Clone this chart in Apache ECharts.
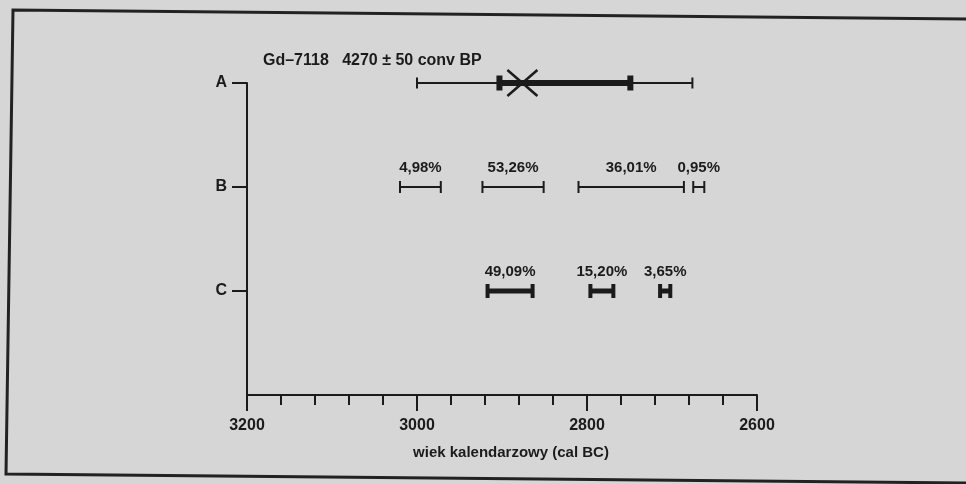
<!DOCTYPE html>
<html>
<head>
<meta charset="utf-8">
<title>Gd-7118</title>
<script src="https://cdn.jsdelivr.net/npm/echarts@6.0.0/dist/echarts.min.js"></script>
<style>
    html, body { margin: 0; padding: 0; background: #d6d6d6; }
    #chart { width: 966px; height: 484px; }
</style>
</head>
<body>
<div id="chart"></div>
<script>
// rows on the vertical axis, bottom slot left empty for the time axis
var rowNames = ['', 'C', 'B', 'A'];
var yearTicks = [2600, 2800, 3000, 3200];

// A: conventional date, 2 sigma (thin) and 1 sigma (thick) ranges, marker
var aRangeOuter = [3000, 2676];
var aRangeInner = [2903, 2749];
var aMarker = [2876];

// B: 95% ranges
var bFrom = [3020, 2923, 2810, 2675];
var bTo = [2972, 2851, 2686, 2662];
var bProb = ['4,98%', '53,26%', '36,01%', '0,95%'];

// C: 68% ranges
var cFrom = [2917, 2796, 2714];
var cTo = [2864, 2769, 2702];
var cProb = ['49,09%', '15,20%', '3,65%'];

var ink = '#1b1b1b';
var fontFamily = '"Liberation Sans", Arial, sans-serif';

var chart = echarts.init(document.getElementById('chart'));

function intervalRenderer(lineW, capW, capH, labels) {
    return function (params, api) {
        var p0 = api.coord([api.value(0), api.value(2)]);
        var p1 = api.coord([api.value(1), api.value(2)]);
        var y = p0[1];
        var children = [
            { type: 'line', shape: { x1: p0[0], y1: y, x2: p1[0], y2: y },
              style: { stroke: ink, lineWidth: lineW } },
            { type: 'rect', shape: { x: p0[0] - capW / 2, y: y - capH / 2, width: capW, height: capH },
              style: { fill: ink } },
            { type: 'rect', shape: { x: p1[0] - capW / 2, y: y - capH / 2, width: capW, height: capH },
              style: { fill: ink } }
        ];
        if (labels) {
            children.push({
                type: 'text', x: (p0[0] + p1[0]) / 2, y: y - 12,
                style: { text: labels[params.dataIndex], fill: ink, align: 'center', verticalAlign: 'bottom',
                         font: 'bold 15px ' + fontFamily }
            });
        }
        return { type: 'group', children: children };
    };
}

function rowData(from, to, row) {
    var idx = rowNames.indexOf(row);
    return from.map(function (v, i) { return [v, to[i], idx]; });
}

var option = {
    animation: false,
    backgroundColor: '#d6d6d6',
    title: {
        text: 'Gd\u20137118   4270 \u00b1 50 conv BP',
        left: 258,
        top: 48,
        textStyle: { color: ink, fontSize: 16, fontWeight: 'bold', fontFamily: fontFamily }
    },
    grid: { left: 247, right: 209, top: 83, bottom: 89 },
    xAxis: {
        type: 'value',
        inverse: true,
        min: yearTicks[0],
        max: yearTicks[yearTicks.length - 1],
        interval: yearTicks[1] - yearTicks[0],
        name: 'wiek kalendarzowy (cal BC)',
        nameLocation: 'middle',
        nameGap: 50,
        nameTextStyle: { color: ink, fontSize: 15, fontWeight: 'bold', fontFamily: fontFamily, padding: [0, 0, 0, 18] },
        axisLine: { show: true, lineStyle: { color: ink, width: 2 } },
        axisTick: { show: true, length: 16, lineStyle: { color: ink, width: 2 } },
        minorTick: { show: true, splitNumber: 5, length: 10, lineStyle: { color: ink, width: 2 } },
        axisLabel: {
            margin: 23, color: ink, fontSize: 16, fontWeight: 'bold', fontFamily: fontFamily,
            formatter: function (v) { return String(v); }
        },
        splitLine: { show: false }
    },
    yAxis: {
        type: 'category',
        data: rowNames,
        boundaryGap: false,
        axisLine: { show: true, lineStyle: { color: ink, width: 2 } },
        axisTick: {
            show: true,
            length: 15,
            interval: function (i, v) { return v !== ''; },
            lineStyle: { color: ink, width: 2 }
        },
        axisLabel: { interval: 0, margin: 20, color: ink, fontSize: 16, fontWeight: 'bold', fontFamily: fontFamily },
        splitLine: { show: false }
    },
    series: [
        {
            type: 'custom',
            renderItem: intervalRenderer(2, 2, 11, null),
            data: rowData([aRangeOuter[0]], [aRangeOuter[1]], 'A')
        },
        {
            type: 'custom',
            renderItem: intervalRenderer(6, 6, 15, null),
            data: rowData([aRangeInner[0]], [aRangeInner[1]], 'A')
        },
        {
            type: 'custom',
            renderItem: function (params, api) {
                var p = api.coord([api.value(0), api.value(1)]);
                return {
                    type: 'group',
                    children: [
                        { type: 'line', shape: { x1: p[0] - 15, y1: p[1] - 13, x2: p[0] + 15, y2: p[1] + 13 },
                          style: { stroke: ink, lineWidth: 2.5 } },
                        { type: 'line', shape: { x1: p[0] - 15, y1: p[1] + 13, x2: p[0] + 15, y2: p[1] - 13 },
                          style: { stroke: ink, lineWidth: 2.5 } }
                    ]
                };
            },
            data: aMarker.map(function (v) { return [v, rowNames.indexOf('A')]; })
        },
        {
            type: 'custom',
            renderItem: intervalRenderer(2, 2, 12, bProb),
            data: rowData(bFrom, bTo, 'B')
        },
        {
            type: 'custom',
            renderItem: intervalRenderer(5, 4, 14, cProb),
            data: rowData(cFrom, cTo, 'C')
        }
    ],
    graphic: [
        {
            type: 'polyline',
            silent: true,
            shape: { points: [[966, 19], [13, 10], [6, 474], [966, 483]] },
            style: { stroke: '#222', lineWidth: 3, fill: null }
        }
    ]
};

chart.setOption(option);
window.addEventListener('resize', chart.resize);
</script>
</body>
</html>
